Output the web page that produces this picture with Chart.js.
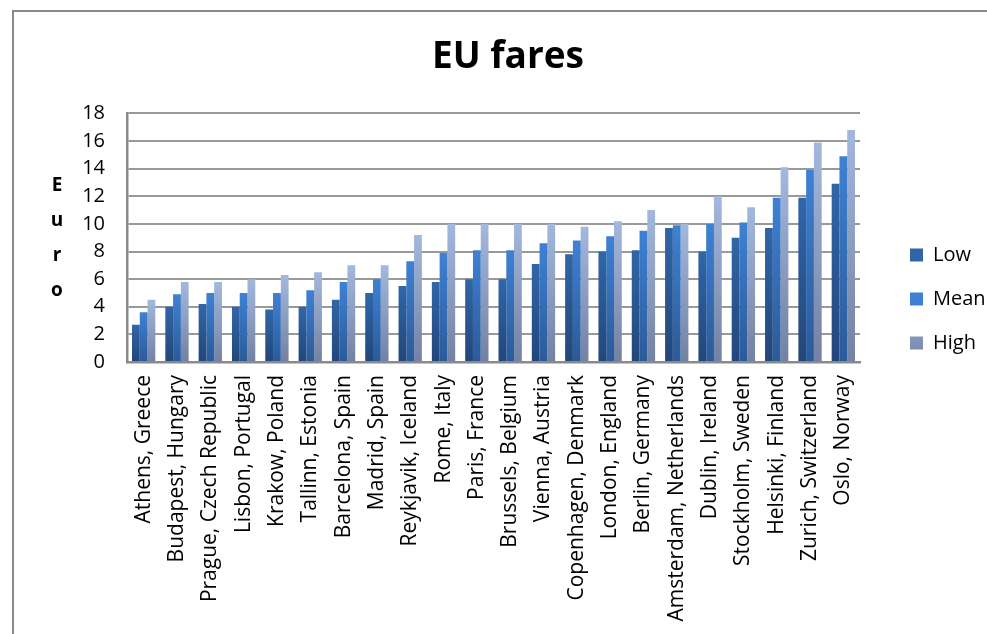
<!DOCTYPE html>
<html>
<head>
<meta charset="utf-8">
<script src="https://cdn.jsdelivr.net/npm/chart.js@4"></script>
<style>
  html, body { margin: 0; padding: 0; background: #fff; overflow: hidden; width: 987px; height: 634px; }
  .frame { position: absolute; left: 12px; top: 10px; width: 1100px; height: 1000px; border: 2px solid #8a8a8a; }
  #myChart { position: absolute; left: 0; top: 0; }
</style>
</head>
<body>
<div class="frame"></div>
<canvas id="myChart" width="1016" height="642"></canvas>
<script>
const cities = [
  "Athens, Greece", "Budapest, Hungary", "Prague, Czech Republic", "Lisbon, Portugal",
  "Krakow, Poland", "Tallinn, Estonia", "Barcelona, Spain", "Madrid, Spain",
  "Reykjavik, Iceland", "Rome, Italy", "Paris, France", "Brussels, Belgium",
  "Vienna, Austria", "Copenhagen, Denmark", "London, England", "Berlin, Germany",
  "Amsterdam, Netherlands", "Dublin, Ireland", "Stockholm, Sweden", "Helsinki, Finland",
  "Zurich, Switzerland", "Oslo, Norway"
];
const lowFares  = [2.7, 4.0, 4.2, 4.0, 3.8, 4.0, 4.5, 5.0, 5.5, 5.8, 6.0, 6.0, 7.1, 7.8, 8.0, 8.1, 9.7, 8.0, 9.0, 9.7, 11.9, 12.9];
const meanFares = [3.6, 4.9, 5.0, 5.0, 5.0, 5.2, 5.8, 6.0, 7.3, 7.9, 8.1, 8.1, 8.6, 8.8, 9.1, 9.5, 9.9, 10.0, 10.1, 11.9, 13.9, 14.9];
const highFares = [4.5, 5.8, 5.8, 6.0, 6.3, 6.5, 7.0, 7.0, 9.2, 10.0, 10.0, 10.0, 10.0, 9.8, 10.2, 11.0, 10.0, 12.0, 11.2, 14.1, 15.9, 16.8];
const yTitle = ["E", "u", "r", "o"];

const font = "'Open Sans', sans-serif";

// gradient per bar, from the top of the bar down to zero
function barFill(top, bottom, flat) {
  return function(c) {
    const chart = c.chart;
    const y = chart.scales.y;
    if (c.type !== "data" || !y || !chart.chartArea) return flat;
    const g = chart.ctx.createLinearGradient(0, y.getPixelForValue(c.raw), 0, y.getPixelForValue(0));
    g.addColorStop(0, top);
    g.addColorStop(1, bottom);
    return g;
  };
}

// stacked upright letters of the y axis title
const stackedTitle = {
  id: "stackedTitle",
  afterDraw(chart) {
    const a = chart.chartArea;
    const c = chart.ctx;
    const mid = (a.top + a.bottom) / 2;
    c.save();
    c.font = "bold 19px " + font;
    c.fillStyle = "#000";
    c.textAlign = "center";
    c.textBaseline = "middle";
    yTitle.forEach((ch, i) => {
      c.fillText(ch, 57, mid + (i - (yTitle.length - 1) / 2) * 35);
    });
    c.restore();
  }
};

// leave a gap between plot and legend, like the original
const legendGap = {
  id: "legendGap",
  afterLayout(chart) {
    chart.legend.left += 26;
    chart.legend.right += 26;
  }
};

let ctx = document.getElementById("myChart").getContext("2d");
let myChart = new Chart(ctx, {
  type: "bar",
  data: {
    labels: cities,
    datasets: [
      { label: "Low",  data: lowFares,  backgroundColor: barFill("#3066a8", "#22467a", "#2c5c9a") },
      { label: "Mean", data: meanFares, backgroundColor: barFill("#3e81d4", "#2b5a98", "#3874c2") },
      { label: "High", data: highFares, backgroundColor: barFill("#a3b8de", "#7381a2", "#8fa2c8") },
    ],
  },
  options: {
    responsive: false,
    animation: false,
    categoryPercentage: 0.7,
    barPercentage: 1.0,
    layout: { padding: 0 },
    plugins: {
      title: {
        display: true,
        text: "EU fares",
        color: "#000",
        font: { family: font, size: 37, weight: "bold" },
        padding: { top: 35, bottom: 34 },
      },
      legend: {
        position: "right",
        align: "start",
        title: { display: true, text: "", padding: { top: 206.5 } },
        labels: {
          color: "#000",
          font: { family: font, size: 20 },
          boxWidth: 13,
          boxHeight: 13,
          padding: 24,
        },
      },
      tooltip: { enabled: false },
    },
    scales: {
      x: {
        grid: { display: false },
        border: { display: true, color: "#8a8a8a", width: 2.5 },
        ticks: {
          color: "#000",
          font: { family: font, size: 21 },
          minRotation: 90,
          maxRotation: 90,
          autoSkip: false,
          padding: 5,
        },
        afterFit(scale) {
          scale.height = 280;
          scale.paddingRight = 156;
        },
      },
      y: {
        min: 0,
        max: 18,
        grid: { color: "#999", lineWidth: 2, drawTicks: false },
        border: { display: true, color: "#8a8a8a", width: 2.5 },
        ticks: {
          stepSize: 2,
          color: "#000",
          font: { family: font, size: 20 },
          padding: 22,
        },
        afterFit(scale) {
          scale.width = 127;
        },
      },
    },
  },
  plugins: [stackedTitle, legendGap],
});
</script>
</body>
</html>
